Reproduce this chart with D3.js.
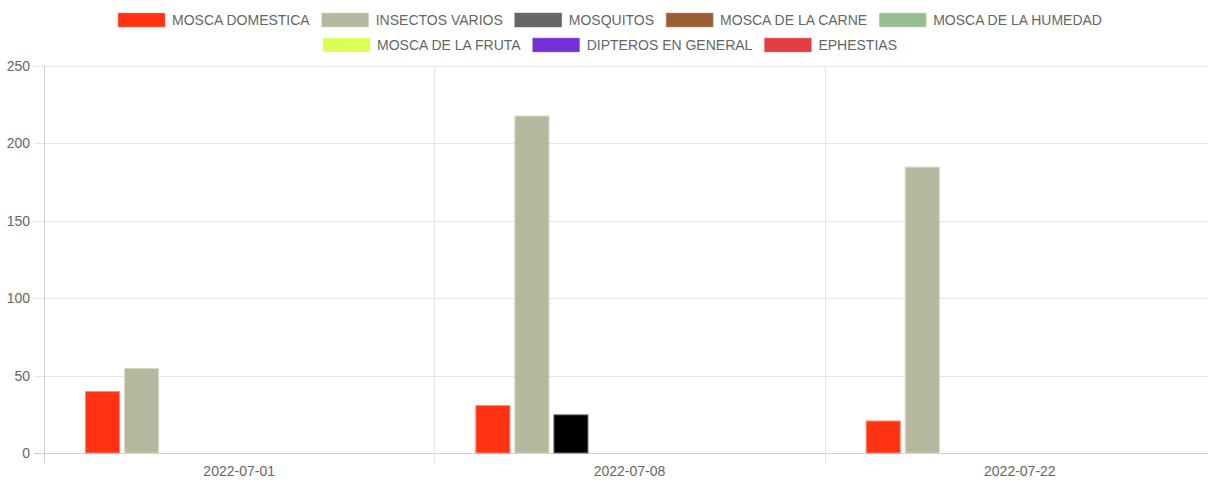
<!DOCTYPE html>
<html><head><meta charset="utf-8">
<script src="https://cdn.jsdelivr.net/npm/d3@7"></script>
<style>html,body{margin:0;padding:0;background:#fff;}svg{display:block;font-family:"Liberation Sans",Arial,sans-serif;}</style>
</head><body>
<svg id="c" width="1208" height="482"></svg>
<script>
const categories = ["2022-07-01", "2022-07-08", "2022-07-22"];
const seriesNames = ["MOSCA DOMESTICA", "INSECTOS VARIOS", "MOSQUITOS", "MOSCA DE LA CARNE", "MOSCA DE LA HUMEDAD", "MOSCA DE LA FRUTA", "DIPTEROS EN GENERAL", "EPHESTIAS"];
const seriesColors = ["#ff3311", "#b5b89e", "#666666", "#9a5e35", "#97be92", "#dbfe55", "#7431d8", "#e23e45"];
const barFill = ["#ff3311", "#b5b89e", "#000000", "#9a5e35", "#97be92", "#dbfe55", "#7431d8", "#e23e45"];
const barStroke = ["#ff8a78", "#d6d8c8", "#777777", "#c09070", "#c0dcbc", "#eeff99", "#a080e8", "#f08088"];
const mosca_domestica = [40, 31, 21];
const insectos_varios = [55, 218, 185];
const mosquitos = [0, 25, 0];
const mosca_carne = [0, 0, 0];
const mosca_humedad = [0, 0, 0];
const mosca_fruta = [0, 0, 0];
const dipteros = [0, 0, 0];
const ephestias = [0, 0, 0];
const yTicks = [0, 50, 100, 150, 200, 250];

const series = [mosca_domestica, insectos_varios, mosquitos, mosca_carne, mosca_humedad, mosca_fruta, dipteros, ephestias];

const svg = d3.select("#c");
const mLeft = 44, mRight = 1215, mTop = 66, mBottom = 453;

const x = d3.scaleBand().domain(categories).range([mLeft, mRight]).paddingInner(0).paddingOuter(0);
const inner = d3.scaleBand().domain(d3.range(series.length))
  .range([x.bandwidth() * 0.1, x.bandwidth() * 0.9]).paddingInner(0.1).paddingOuter(0.05);
const y = d3.scaleLinear().domain([0, 250]).range([mBottom, mTop]);

const g = svg.append("g");
yTicks.forEach(t => {
  g.append("line").attr("x1", mLeft - 10).attr("x2", 1208)
    .attr("y1", Math.round(y(t)) + 0.5).attr("y2", Math.round(y(t)) + 0.5)
    .attr("stroke", t === 0 ? "#cfcfcf" : "#e5e5e5").attr("stroke-width", 1);
});
[mLeft].concat(categories.slice(1).map(c => x(c))).forEach((xx, i) => {
  g.append("line").attr("x1", Math.round(xx) + 0.5).attr("x2", Math.round(xx) + 0.5)
    .attr("y1", mTop).attr("y2", mBottom + 10)
    .attr("stroke", i === 0 ? "#cfcfcf" : "#e5e5e5");
});

const yAxis = d3.axisLeft(y).tickValues(yTicks).tickSize(0).tickPadding(14);
const ya = svg.append("g").attr("transform", `translate(${mLeft},0)`).call(yAxis);
ya.select(".domain").remove();
ya.selectAll("text").attr("fill", "#666").style("font-size", "14px").style("font-family", '"Liberation Sans",Arial,sans-serif');

const xAxis = d3.axisBottom(x).tickSize(0).tickPadding(13);
const xa = svg.append("g").attr("transform", `translate(0,${mBottom})`).call(xAxis);
xa.select(".domain").remove();
xa.selectAll("text").attr("fill", "#666").style("font-size", "14px").style("font-family", '"Liberation Sans",Arial,sans-serif');

series.forEach((vals, si) => {
  svg.append("g").selectAll("rect").data(vals.map((v, ci) => ({v, c: categories[ci]})).filter(d => d.v > 0))
    .join("rect")
    .attr("x", d => x(d.c) + inner(si) + 0.5)
    .attr("width", inner.bandwidth() - 1)
    .attr("y", d => y(d.v) + 0.5)
    .attr("height", d => y(0) - y(d.v) - 0.5)
    .attr("fill", barFill[si])
    .attr("stroke", barStroke[si]).attr("stroke-width", 1);
});

const rows = [[0, 1, 2, 3, 4], [5, 6, 7]];
const rowY = [20, 45];
const boxW = 47, boxH = 14, gapText = 7, gapItem = 12;
const measure = svg.append("text").style("font-size", "14px").attr("visibility", "hidden");
function tw(s) { measure.text(s); return measure.node().getComputedTextLength(); }
rows.forEach((row, ri) => {
  const widths = row.map(i => boxW + gapText + tw(seriesNames[i]));
  const total = d3.sum(widths) + gapItem * (row.length - 1);
  let cx = (1208 - total) / 2 + 6;
  row.forEach((i, k) => {
    const lg = svg.append("g").attr("transform", `translate(${cx},${rowY[ri]})`);
    lg.append("rect").attr("x", 0).attr("y", -boxH / 2).attr("width", boxW).attr("height", boxH)
      .attr("fill", seriesColors[i]).attr("stroke", barStroke[i]).attr("stroke-width", 0.5);
    lg.append("text").attr("x", boxW + gapText).attr("y", 0).attr("dy", "0.35em")
      .attr("fill", "#666").style("font-size", "14px").text(seriesNames[i]);
    cx += widths[k] + gapItem;
  });
});
measure.remove();
</script>
</body></html>
